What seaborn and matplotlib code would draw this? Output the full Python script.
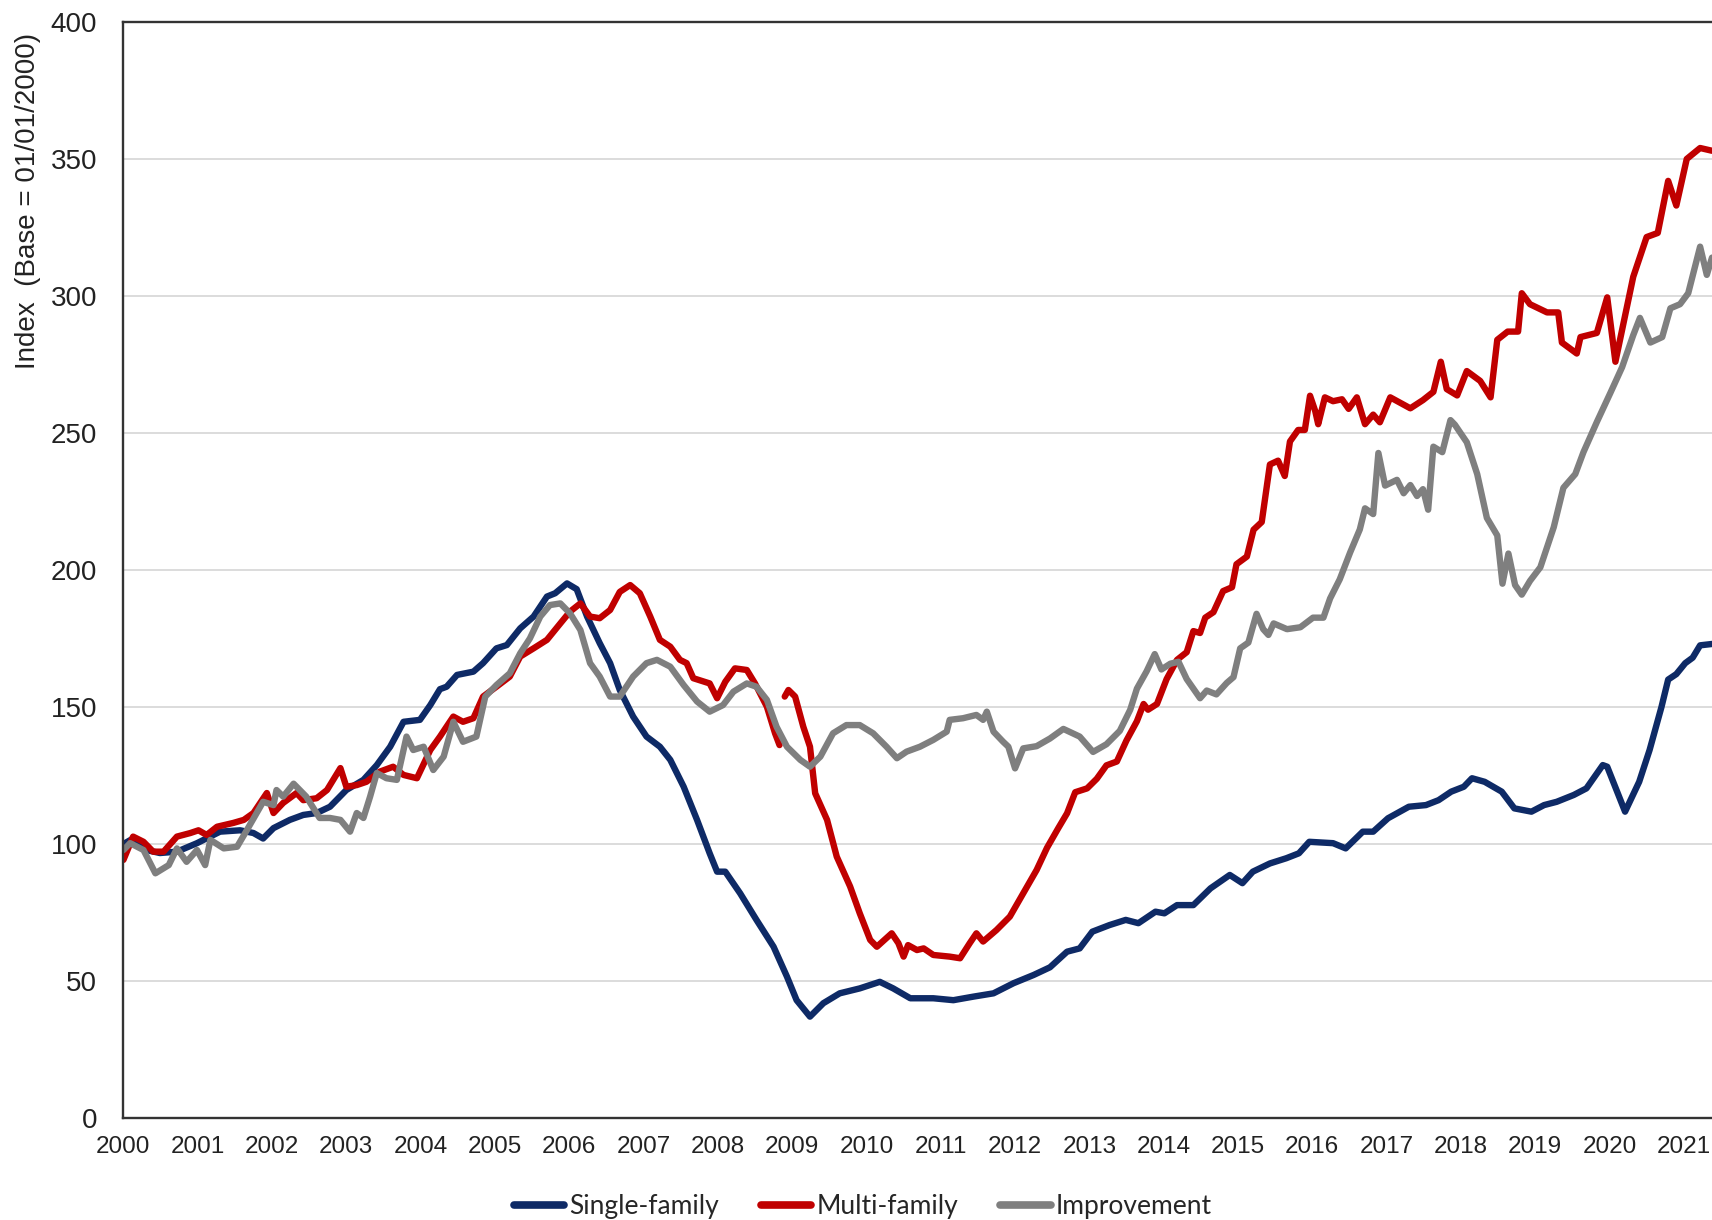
import numpy as np
import pandas as pd
import matplotlib
matplotlib.use("Agg")
import matplotlib.pyplot as plt
from matplotlib.lines import Line2D
import seaborn as sns

# -----------------------------------------------------------
# Data (decimal year, index value)
# -----------------------------------------------------------
single_x = [2000.00, 2000.13, 2000.31, 2000.49, 2000.72, 2000.99, 2001.30, 2001.57, 2001.75, 2001.88,
            2002.02, 2002.24, 2002.42, 2002.60, 2002.78, 2003.00, 2003.23, 2003.41, 2003.59, 2003.77,
            2003.99, 2004.13, 2004.26, 2004.35, 2004.49, 2004.71, 2004.84, 2005.02, 2005.16, 2005.34,
            2005.52, 2005.70, 2005.81, 2005.97, 2006.10, 2006.24, 2006.41, 2006.55, 2006.68, 2006.86,
            2007.04, 2007.22, 2007.36, 2007.54, 2007.72, 2007.89, 2007.99, 2008.10, 2008.30, 2008.52,
            2008.75, 2008.93, 2009.06, 2009.24, 2009.42, 2009.64, 2009.91, 2010.18, 2010.36, 2010.59,
            2010.90, 2011.17, 2011.44, 2011.71, 2011.98, 2012.25, 2012.47, 2012.70, 2012.87, 2013.04,
            2013.27, 2013.49, 2013.66, 2013.89, 2014.01, 2014.18, 2014.40, 2014.63, 2014.89, 2015.06,
            2015.20, 2015.43, 2015.65, 2015.82, 2015.96, 2016.28, 2016.45, 2016.68, 2016.82, 2017.02,
            2017.30, 2017.53, 2017.70, 2017.87, 2018.04, 2018.15, 2018.32, 2018.55, 2018.72, 2018.95,
            2019.12, 2019.29, 2019.52, 2019.69, 2019.91, 2019.97, 2020.21, 2020.40, 2020.54, 2020.70,
            2020.79, 2020.90, 2021.02, 2021.12, 2021.22, 2021.38]
single_y = [100.0, 102.0, 97.8, 96.7, 97.2, 100.3, 104.5, 105.0, 104.0, 102.0,
            105.8, 108.8, 110.6, 111.3, 113.6, 119.7, 123.4, 128.8, 135.5, 144.6,
            145.3, 150.7, 156.5, 157.4, 161.7, 162.9, 166.0, 171.4, 172.6, 178.7,
            183.0, 190.3, 191.5, 195.1, 193.0, 183.0, 173.3, 166.0, 156.2, 146.5,
            139.2, 135.5, 130.7, 120.9, 108.8, 96.6, 89.9, 89.9, 82.0, 72.3,
            62.5, 51.6, 43.0, 37.0, 41.9, 45.5, 47.3, 49.7, 47.3, 43.7,
            43.7, 43.0, 44.3, 45.5, 49.2, 52.2, 55.0, 60.7, 61.9, 68.0,
            70.4, 72.3, 71.1, 75.3, 74.7, 77.7, 77.7, 83.8, 88.7, 85.7,
            89.9, 92.9, 94.8, 96.6, 100.8, 100.3, 98.4, 104.5, 104.5, 109.4,
            113.6, 114.2, 116.0, 119.1, 120.9, 124.0, 122.7, 119.1, 113.0, 111.8,
            114.2, 115.4, 117.9, 120.3, 128.8, 128.2, 111.8, 122.7, 134.3, 150.0,
            160.0, 162.0, 166.0, 168.0, 172.5, 173.0]

multi_x = [2000.00, 2000.13, 2000.27, 2000.40, 2000.54, 2000.72, 2000.90, 2001.01, 2001.12, 2001.26,
           2001.48, 2001.62, 2001.75, 2001.93, 2002.02, 2002.15, 2002.33, 2002.42, 2002.60, 2002.74,
           2002.92, 2003.00, 2003.14, 2003.27, 2003.45, 2003.63, 2003.77, 2003.95, 2004.13, 2004.26,
           2004.44, 2004.57, 2004.71, 2004.84, 2005.02, 2005.20, 2005.34, 2005.52, 2005.70, 2005.88,
           2006.01, 2006.15, 2006.28, 2006.41, 2006.55, 2006.68, 2006.82, 2006.95, 2007.09, 2007.22,
           2007.36, 2007.49, 2007.58, 2007.67, 2007.89, 2007.99, 2008.10, 2008.23, 2008.39, 2008.50,
           2008.66, 2008.77, 2008.83,
           2008.90, 2008.95, 2009.04, 2009.15, 2009.24, 2009.31, 2009.47, 2009.60, 2009.78, 2009.91,
           2010.05, 2010.14, 2010.34, 2010.43, 2010.50, 2010.56, 2010.68, 2010.77, 2010.90, 2011.12,
           2011.26, 2011.39, 2011.48, 2011.57, 2011.75, 2011.93, 2012.11, 2012.29, 2012.43, 2012.58,
           2012.70, 2012.81, 2012.97, 2013.10, 2013.23, 2013.37, 2013.50, 2013.64, 2013.73, 2013.79,
           2013.91, 2014.04, 2014.18, 2014.31, 2014.40, 2014.49, 2014.56, 2014.67, 2014.80, 2014.92,
           2014.98, 2015.12, 2015.21, 2015.32, 2015.43, 2015.54, 2015.63, 2015.70, 2015.81, 2015.90,
           2015.97, 2016.04, 2016.08, 2016.17, 2016.28, 2016.40, 2016.49, 2016.60, 2016.71, 2016.82,
           2016.91, 2017.05, 2017.32, 2017.49, 2017.63, 2017.73, 2017.81, 2017.95, 2018.08, 2018.26,
           2018.40, 2018.49, 2018.63, 2018.77, 2018.82, 2018.93, 2019.16, 2019.31, 2019.36, 2019.56,
           2019.61, 2019.83, 2019.97, 2020.08, 2020.32, 2020.50, 2020.65, 2020.79, 2020.90, 2021.04,
           2021.22, 2021.38]
multi_y = [94.2, 102.7, 100.8, 97.2, 97.2, 102.7, 104.0, 105.0, 103.3, 106.3,
           107.7, 108.8, 111.3, 118.6, 111.3, 115.0, 118.6, 116.0, 116.7, 119.7,
           127.7, 120.9, 121.5, 122.7, 126.4, 128.2, 125.2, 124.0, 134.3, 139.2,
           146.5, 144.6, 145.9, 153.8, 157.4, 161.1, 168.4, 171.4, 174.5, 180.5,
           184.8, 187.8, 183.0, 182.4, 185.4, 192.0, 194.5, 191.5, 183.0, 174.5,
           172.0, 167.2, 166.0, 160.5, 158.6, 153.2, 159.2, 164.1, 163.5, 158.6,
           150.1, 140.4, 136.1,
           153.8, 156.2, 153.8, 142.8, 135.5, 118.5, 108.8, 95.4, 84.5, 74.7,
           65.0, 62.5, 67.4, 63.8, 58.9, 63.1, 61.3, 61.9, 59.5, 58.9,
           58.3, 63.8, 67.4, 64.4, 68.6, 73.5, 82.0, 90.5, 98.6, 105.7,
           111.2, 118.9, 120.3, 123.8, 128.7, 130.1, 137.8, 144.8, 151.1, 149.0,
           151.1, 160.2, 167.2, 170.0, 177.7, 177.0, 182.6, 184.6, 192.3, 193.7,
           202.1, 204.9, 214.7, 217.5, 238.5, 239.9, 234.3, 246.9, 251.1, 251.1,
           263.6, 258.0, 253.2, 263.0, 261.6, 262.3, 258.8, 263.0, 253.2, 256.7,
           253.9, 263.0, 259.0, 262.0, 265.0, 276.0, 266.0, 263.7, 272.6, 269.0,
           263.0, 284.0, 287.0, 287.0, 301.0, 297.0, 294.0, 294.0, 283.0, 279.0,
           285.0, 286.5, 299.5, 276.0, 307.0, 321.5, 323.0, 342.0, 333.0, 350.0,
           354.0, 353.0]
multi_break = 2008.87  # the multi-family series has a gap here

improv_x = [2000.00, 2000.09, 2000.27, 2000.43, 2000.61, 2000.72, 2000.85, 2000.99, 2001.10, 2001.17,
            2001.35, 2001.53, 2001.66, 2001.88, 2002.02, 2002.06, 2002.15, 2002.29, 2002.46, 2002.64,
            2002.78, 2002.92, 2003.05, 2003.14, 2003.23, 2003.32, 2003.41, 2003.54, 2003.68, 2003.81,
            2003.90, 2004.04, 2004.17, 2004.31, 2004.44, 2004.57, 2004.75, 2004.87, 2005.02, 2005.20,
            2005.34, 2005.47, 2005.61, 2005.74, 2005.88, 2006.01, 2006.15, 2006.28, 2006.41, 2006.55,
            2006.68, 2006.86, 2007.04, 2007.18, 2007.36, 2007.54, 2007.72, 2007.89, 2008.07, 2008.21,
            2008.39, 2008.52, 2008.66, 2008.79, 2008.93, 2009.11, 2009.24, 2009.38, 2009.55, 2009.73,
            2009.91, 2010.09, 2010.27, 2010.41, 2010.54, 2010.72, 2010.90, 2011.08, 2011.12, 2011.30,
            2011.48, 2011.57, 2011.62, 2011.71, 2011.84, 2011.91, 2012.00, 2012.11, 2012.29, 2012.47,
            2012.65, 2012.87, 2013.05, 2013.23, 2013.41, 2013.55, 2013.64, 2013.77, 2013.88, 2013.97,
            2014.09, 2014.20, 2014.31, 2014.49, 2014.58, 2014.71, 2014.85, 2014.94, 2015.03, 2015.14,
            2015.25, 2015.34, 2015.41, 2015.48, 2015.66, 2015.84, 2016.01, 2016.15, 2016.24, 2016.37,
            2016.51, 2016.64, 2016.71, 2016.82, 2016.89, 2016.98, 2017.14, 2017.23, 2017.32, 2017.41,
            2017.49, 2017.56, 2017.63, 2017.75, 2017.86, 2017.92, 2018.08, 2018.22, 2018.35, 2018.49,
            2018.56, 2018.64, 2018.73, 2018.82, 2018.93, 2019.07, 2019.25, 2019.38, 2019.54, 2019.65,
            2019.83, 2020.01, 2020.17, 2020.32, 2020.41, 2020.55, 2020.71, 2020.82, 2020.95, 2021.06,
            2021.22, 2021.31, 2021.38]
improv_y = [97.8, 100.3, 97.8, 89.3, 92.3, 98.4, 93.5, 97.8, 92.3, 101.5,
            98.4, 99.0, 105.0, 115.4, 114.2, 119.7, 117.3, 122.0, 117.3, 109.5,
            109.5, 108.8, 104.5, 111.3, 109.5, 117.3, 125.9, 124.0, 123.4, 139.2,
            134.3, 135.5, 127.0, 131.9, 144.6, 137.3, 139.2, 153.8, 158.0, 162.3,
            169.6, 175.0, 183.0, 187.2, 187.8, 184.2, 178.1, 166.0, 161.1, 153.8,
            153.8, 161.1, 166.0, 167.2, 164.7, 158.0, 152.0, 148.3, 150.7, 155.6,
            158.6, 157.4, 152.6, 142.8, 135.5, 130.7, 128.2, 131.9, 140.4, 143.4,
            143.4, 140.4, 135.5, 131.3, 133.7, 135.5, 138.0, 141.0, 145.3, 145.9,
            147.1, 145.3, 148.3, 141.0, 137.3, 135.5, 127.6, 134.9, 135.7, 138.5,
            142.0, 139.2, 133.6, 136.4, 141.3, 149.0, 156.7, 163.0, 169.3, 163.7,
            165.8, 166.5, 160.2, 153.2, 156.0, 154.6, 158.8, 160.9, 171.4, 173.5,
            184.0, 178.4, 176.3, 180.5, 178.4, 179.1, 182.6, 182.6, 189.6, 196.6,
            206.4, 214.8, 222.5, 220.4, 242.7, 230.8, 232.9, 228.0, 231.0, 227.0,
            229.5, 222.0, 245.0, 243.0, 254.7, 253.0, 246.6, 235.0, 219.0, 212.6,
            195.0, 206.0, 194.5, 191.0, 196.0, 201.0, 215.6, 230.0, 235.0, 243.0,
            254.0, 264.5, 274.0, 285.7, 292.0, 283.0, 285.0, 295.5, 297.0, 301.0,
            318.0, 307.7, 314.0]

series_names = ["Single-family", "Multi-family", "Improvement"]
series_colors = ["#0e2a66", "#c00000", "#7f7f7f"]
year_ticks = list(range(2000, 2022))
value_ticks = list(range(0, 401, 50))

# -----------------------------------------------------------
# Long-form table for seaborn
# -----------------------------------------------------------
frames = []
for name, xs, ys in zip(series_names,
                        [single_x, multi_x, improv_x],
                        [single_y, multi_y, improv_y]):
    part = pd.DataFrame({"year": xs, "value": ys, "series": name})
    part["segment"] = 0
    if name == "Multi-family":
        part["segment"] = np.where(part["year"] > multi_break, 1, 0)
    frames.append(part)
df = pd.concat(frames, ignore_index=True)

# -----------------------------------------------------------
# Plot
# -----------------------------------------------------------
sns.set_style("white")
plt.rcParams["font.family"] = ["Liberation Sans", "DejaVu Sans"]

fig = plt.figure(figsize=(17.12, 12.2), dpi=100)
ax = fig.add_axes([0.0721, 0.0836, 0.9279, 0.8984])

ax.yaxis.grid(True, color="#d9d9d9", linewidth=1.3)
ax.set_axisbelow(True)

sns.lineplot(data=df, x="year", y="value", hue="series", units="segment",
             estimator=None, sort=False, palette=dict(zip(series_names, series_colors)),
             hue_order=series_names, linewidth=4.6, legend=False, ax=ax)
for ln in ax.lines:
    ln.set_solid_joinstyle("round")
    ln.set_solid_capstyle("round")

ax.set_xlim(2000, 2021.38)
ax.set_ylim(0, 400)
ax.set_xticks(year_ticks)
ax.set_xticklabels([str(y) for y in year_ticks])
ax.set_yticks(value_ticks)
ax.set_yticklabels([str(v) for v in value_ticks])
ax.set_xlabel("")
ax.set_ylabel("")

ax.tick_params(axis="x", direction="in", length=6, width=1, color="#404040",
               labelsize=17.5, pad=13, labelcolor="#222222")
ax.tick_params(axis="y", length=0, labelsize=20, pad=19, labelcolor="#222222")

for side in ["left", "bottom", "top"]:
    ax.spines[side].set_color("#333333")
    ax.spines[side].set_linewidth(1.7)
ax.spines["right"].set_visible(False)

fig.text(0.0164, 0.835, "Index  (Base = 01/01/2000)", rotation=90,
         ha="center", va="center", fontsize=20, color="#222222")

handles = [Line2D([0], [0], color=c, linewidth=5.5, solid_capstyle="round")
           for c in series_colors]
fig.legend(handles, series_names, loc="center", bbox_to_anchor=(0.504, 0.011),
           ncol=3, frameon=False, handlelength=1.9, handletextpad=0.2,
           columnspacing=1.6, prop={"family": "Lato", "size": 19})

fig.savefig("out.png", dpi=100)
